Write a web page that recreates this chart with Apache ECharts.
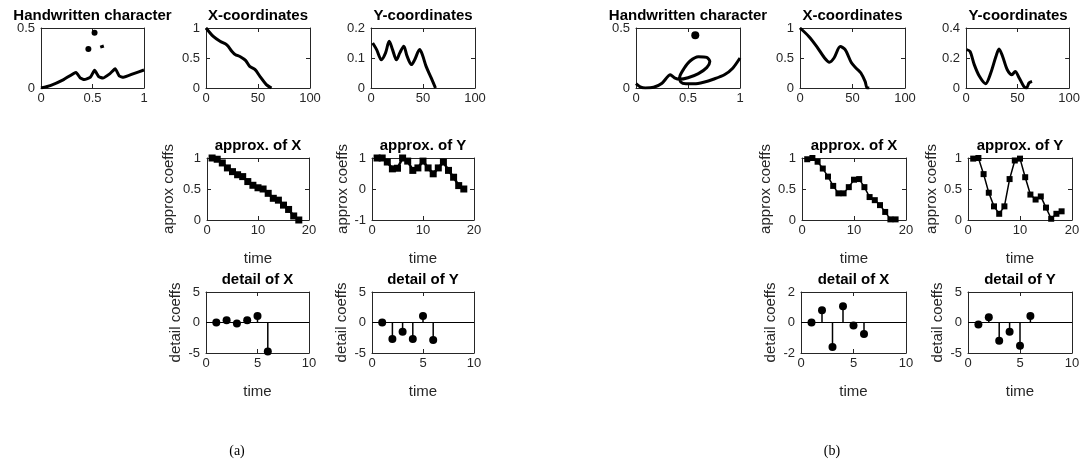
<!DOCTYPE html>
<html>
<head>
<meta charset="utf-8">
<script src="https://cdn.jsdelivr.net/npm/echarts@6/dist/echarts.min.js"></script>
<style>
	html, body { margin: 0; padding: 0; background: #fff; }
	#chart { width: 1083px; height: 467px; }
</style>
</head>
<body>
<div id="chart"></div>
<script>
// ---- (a) ----
var handA = [[0, 0], [0.09, 0.02], [0.22, 0.07], [0.34, 0.13], [0.38, 0.085], [0.42, 0.07], [0.48, 0.09], [0.52, 0.147], [0.56, 0.095], [0.6, 0.083], [0.67, 0.12], [0.72, 0.16], [0.76, 0.1], [0.8, 0.089], [0.9, 0.12], [1, 0.15]];
var dotsA = [[0.52, 0.46], [0.46, 0.325]];
var dashA = [[0.575, 0.34], [0.61, 0.35]];
var xCoordA = [[0, 1], [7, 0.86], [13.5, 0.78], [20, 0.72], [25, 0.61], [28, 0.56], [33, 0.52], [38, 0.46], [42, 0.36], [47, 0.31], [52, 0.19], [58, 0.056], [63, 0]];
var yCoordA = [[1.6, 0.15], [5.4, 0.128], [10, 0.094], [14, 0.117], [17.5, 0.156], [20.7, 0.128], [24.5, 0.094], [27.7, 0.117], [31.5, 0.139], [34.7, 0.106], [38.9, 0.078], [42, 0.094], [46.8, 0.128], [49.4, 0.111], [53, 0.072], [58, 0.033], [62, 0]];
var approxXA = [1.0, 0.98, 0.92, 0.84, 0.78, 0.73, 0.70, 0.62, 0.56, 0.52, 0.50, 0.43, 0.35, 0.32, 0.24, 0.17, 0.065, 0];
var approxYA = [1.0, 1.0, 0.87, 0.65, 0.67, 1.0, 0.9, 0.6, 0.68, 0.9, 0.68, 0.49, 0.68, 0.87, 0.6, 0.38, 0.11, 0];
var detailXA = [0, 0.38, -0.16, 0.38, 1.08, -4.76];
var detailYA = [0, -2.7, -1.5, -2.7, 1.08, -2.86];

// ---- (b) ----
var handB = [[0, 0.036], [0.04, 0.01], [0.09, 0], [0.17, 0.006], [0.25, 0.04], [0.33, 0.11], [0.37, 0.085], [0.42, 0.072], [0.5, 0.085], [0.6, 0.12], [0.68, 0.17], [0.71, 0.22], [0.68, 0.255], [0.6, 0.26], [0.52, 0.225], [0.46, 0.16], [0.42, 0.09], [0.43, 0.05], [0.48, 0.035], [0.56, 0.035], [0.65, 0.048], [0.75, 0.075], [0.85, 0.11], [0.93, 0.165], [1, 0.25]];
var dotsB = [[0.57, 0.44]];
var xCoordB = [[0, 1], [8.4, 0.86], [16, 0.69], [23.4, 0.5], [28, 0.43], [32.4, 0.5], [38.4, 0.69], [43, 0.64], [49, 0.42], [53.5, 0.33], [58, 0.25], [62, 0.11], [64, 0], [66, 0]];
var yCoordB = [[0.6, 0.256], [3.9, 0.244], [8, 0.156], [13, 0.078], [19, 0.029], [24, 0.1], [29, 0.21], [32, 0.26], [35.5, 0.21], [40, 0.122], [44.5, 0.089], [47.7, 0.11], [51.6, 0.067], [56, 0.011], [58.7, 0], [61, 0.033], [64, 0.044]];
var approxXB = [0.98, 1.0, 0.94, 0.83, 0.7, 0.55, 0.43, 0.43, 0.53, 0.65, 0.66, 0.53, 0.37, 0.32, 0.24, 0.13, 0.01, 0.01];
var approxYB = [0.99, 1.0, 0.74, 0.44, 0.22, 0.1, 0.22, 0.66, 0.96, 0.99, 0.69, 0.41, 0.33, 0.38, 0.2, 0.02, 0.1, 0.14];
var detailXB = [0, 0.8, -1.6, 1.07, -0.2, -0.76];
var detailYB = [-0.32, 0.86, -3.0, -1.5, -3.8, 1.08];

var FONT = '"Liberation Sans", Arial, sans-serif';
var AXIS_COLOR = '#262626';

var grids = [], xAxes = [], yAxes = [], series = [], texts = [];

function withTime(values) {
	return values.map(function (v, i) { return [i + 1, v]; });
}

function makeAxis(dim, gi, range, pos, main, name, gap) {
	var axis = {
		gridIndex: gi,
		type: 'value',
		position: pos,
		min: range[0],
		max: range[1],
		interval: range[2],
		axisLine: { show: true, onZero: false, lineStyle: { color: AXIS_COLOR, width: 1 } },
		axisTick: { show: true, inside: true, length: 4, lineStyle: { color: AXIS_COLOR, width: 1 } },
		axisLabel: { show: main, color: AXIS_COLOR, fontSize: 13, fontFamily: FONT, margin: dim == 'x' ? 4 : 6 },
		splitLine: { show: false }
	};
	if (main && name) {
		axis.name = name;
		axis.nameLocation = 'middle';
		axis.nameGap = gap;
		axis.nameTextStyle = { color: AXIS_COLOR, fontSize: 15, fontFamily: FONT };
	}
	return axis;
}

function addPanel(p) {
	var gi = grids.length;
	grids.push({ left: p.left, top: p.top, width: p.w, height: p.h, show: false });
	var xi = xAxes.length, yi = yAxes.length;
	xAxes.push(makeAxis('x', gi, p.x, 'bottom', true, p.xName, 31));
	xAxes.push(makeAxis('x', gi, p.x, 'top', false));
	yAxes.push(makeAxis('y', gi, p.y, 'left', true, p.yName, p.yGap));
	yAxes.push(makeAxis('y', gi, p.y, 'right', false));
	texts.push({
		type: 'text', x: p.left + p.w / 2, y: p.top - 12,
		style: { text: p.title, align: 'center', verticalAlign: 'middle', fill: '#000', font: 'bold 15px ' + FONT }
	});
	p.series.forEach(function (s) {
		s.xAxisIndex = xi;
		s.yAxisIndex = yi;
		series.push(s);
	});
}

function curve(data, width, smooth) {
	return { type: 'line', data: data, smooth: smooth == null ? 0.3 : smooth, showSymbol: false, silent: true, clip: true,
		lineStyle: { color: '#000', width: width || 3 } };
}

function dots(data, size) {
	return { type: 'scatter', data: data, symbol: 'circle', symbolSize: size, silent: true,
		itemStyle: { color: '#000', opacity: 1 } };
}

function approx(values, width, size) {
	return { type: 'line', data: withTime(values), symbol: 'rect', symbolSize: size, showSymbol: true, silent: true,
		lineStyle: { color: '#000', width: width }, itemStyle: { color: '#000', opacity: 1 } };
}

function stems(values) {
	return [{
		type: 'custom',
		data: withTime(values),
		silent: true,
		renderItem: function (params, api) {
			var p0 = api.coord([api.value(0), 0]);
			var p1 = api.coord([api.value(0), api.value(1)]);
			return { type: 'line', shape: { x1: p0[0], y1: p0[1], x2: p1[0], y2: p1[1] },
				style: { stroke: '#000', lineWidth: 1.5 } };
		}
	}, {
		type: 'scatter',
		data: withTime(values),
		symbol: 'circle',
		symbolSize: 8,
		silent: true,
		itemStyle: { color: '#000', opacity: 1 },
		markLine: {
			silent: true, symbol: 'none', label: { show: false },
			lineStyle: { color: '#000', width: 1, type: 'solid' },
			data: [{ yAxis: 0 }]
		}
	}];
}

// left figure (a)
addPanel({ left: 41, top: 28, w: 103, h: 60, title: 'Handwritten character', x: [0, 1, 0.5], y: [0, 0.5, 0.5],
	series: [curve(handA, 3, 0.15), dots(dotsA, 6), curve(dashA, 3)] });
addPanel({ left: 206, top: 28, w: 104, h: 60, title: 'X-coordinates', x: [0, 100, 50], y: [0, 1, 0.5],
	series: [curve(xCoordA)] });
addPanel({ left: 371, top: 28, w: 104, h: 60, title: 'Y-coordinates', x: [0, 100, 50], y: [0, 0.2, 0.1],
	series: [curve(yCoordA)] });
addPanel({ left: 207, top: 158, w: 102, h: 62, title: 'approx. of X', x: [0, 20, 10], y: [0, 1, 0.5],
	xName: 'time', yName: 'approx coeffs', yGap: 31, series: [approx(approxXA, 2.5, 7)] });
addPanel({ left: 372, top: 158, w: 102, h: 62, title: 'approx. of Y', x: [0, 20, 10], y: [-1, 1, 1],
	xName: 'time', yName: 'approx coeffs', yGap: 22, series: [approx(approxYA, 2.5, 7)] });
addPanel({ left: 206, top: 292, w: 103, h: 61, title: 'detail of X', x: [0, 10, 5], y: [-5, 5, 5],
	xName: 'time', yName: 'detail coeffs', yGap: 23, series: stems(detailXA) });
addPanel({ left: 372, top: 292, w: 102, h: 61, title: 'detail of Y', x: [0, 10, 5], y: [-5, 5, 5],
	xName: 'time', yName: 'detail coeffs', yGap: 23, series: stems(detailYA) });

// right figure (b)
addPanel({ left: 636, top: 28, w: 104, h: 60, title: 'Handwritten character', x: [0, 1, 0.5], y: [0, 0.5, 0.5],
	series: [curve(handB, 3, 0.25), dots(dotsB, 8)] });
addPanel({ left: 800, top: 28, w: 105, h: 60, title: 'X-coordinates', x: [0, 100, 50], y: [0, 1, 0.5],
	series: [curve(xCoordB)] });
addPanel({ left: 966, top: 28, w: 104, h: 60, title: 'Y-coordinates', x: [0, 100, 50], y: [0, 0.4, 0.2],
	series: [curve(yCoordB)] });
addPanel({ left: 802, top: 158, w: 104, h: 62, title: 'approx. of X', x: [0, 20, 10], y: [0, 1, 0.5],
	xName: 'time', yName: 'approx coeffs', yGap: 29, series: [approx(approxXB, 1.5, 6)] });
addPanel({ left: 968, top: 158, w: 104, h: 62, title: 'approx. of Y', x: [0, 20, 10], y: [0, 1, 0.5],
	xName: 'time', yName: 'approx coeffs', yGap: 29, series: [approx(approxYB, 1.5, 6)] });
addPanel({ left: 801, top: 292, w: 105, h: 61, title: 'detail of X', x: [0, 10, 5], y: [-2, 2, 2],
	xName: 'time', yName: 'detail coeffs', yGap: 23, series: stems(detailXB) });
addPanel({ left: 968, top: 292, w: 104, h: 61, title: 'detail of Y', x: [0, 10, 5], y: [-5, 5, 5],
	xName: 'time', yName: 'detail coeffs', yGap: 23, series: stems(detailYB) });

// sub-figure captions
texts.push({ type: 'text', x: 237, y: 451, style: { text: '(a)', align: 'center', verticalAlign: 'middle', fill: '#000', font: '14px "Liberation Serif", serif' } });
texts.push({ type: 'text', x: 832, y: 451, style: { text: '(b)', align: 'center', verticalAlign: 'middle', fill: '#000', font: '14px "Liberation Serif", serif' } });

var chart = echarts.init(document.getElementById('chart'), null, { renderer: 'canvas' });
chart.setOption({
	animation: false,
	backgroundColor: '#fff',
	grid: grids,
	xAxis: xAxes,
	yAxis: yAxes,
	series: series,
	graphic: texts
});
</script>
</body>
</html>
